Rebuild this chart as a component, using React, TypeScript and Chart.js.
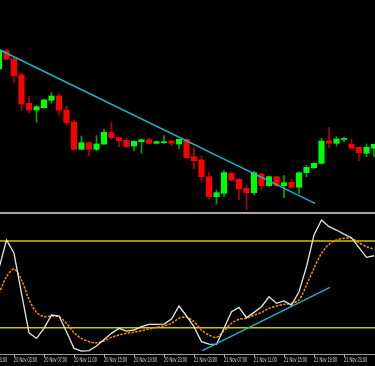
import React, { useEffect, useRef } from 'react';
import { Chart, registerables } from 'chart.js';

Chart.register(...registerables);

// ---- data (hourly bars, bar index 0 = 20 Nov 02:00) ----
const firstBar = -1;
const openP = [143, 161.3, 153, 137, 108.7, 102, 104.3, 111.7, 116, 102, 90, 62.7, 69.3, 62.7, 68, 79.3, 74.3, 71.7, 66, 70.3, 72.3, 68.7, 69.3, 71, 68, 72.7, 55.3, 52, 35.3, 15.3, 18.7, 38.7, 32.7, 23.7, 19.3, 38, 26.3, 35.3, 26.3, 29.7, 24.7, 39.3, 44.3, 48.7, 71, 68.7, 72.5, 67.7, 64.7, 58.7, 63.7];
const highP = [163, 163, 154, 139.3, 115.3, 106.5, 113, 119.3, 118.7, 106, 92, 76, 70, 76.3, 82.7, 90, 75, 74.3, 71.5, 72.7, 74, 71, 76.3, 71.5, 73, 73.5, 64.3, 56, 39.7, 22, 41.3, 40.3, 33.5, 27, 41, 38.5, 36, 36, 36.3, 32.7, 40, 47, 49.5, 73.7, 84.3, 75.3, 75, 73, 65, 68, 68];
const lowP = [142, 152, 129.3, 101.3, 99, 89.7, 103.5, 108.7, 97, 87, 62, 62, 56.3, 61.3, 67, 72.7, 65.3, 64.5, 61, 58.7, 68, 68, 68.7, 66.3, 63, 53.5, 43, 30.3, 13, 8, 15.3, 31, 12, 2.7, 17, 22, 25.5, 25.5, 14.3, 24, 18.7, 35.3, 43.5, 48, 64.3, 66, 70.3, 63, 51.3, 55.3, 55.3];
const closeP = [162, 153, 136.3, 108, 102, 105.3, 112, 116, 102, 89.3, 62.7, 69.3, 62.7, 68, 79.7, 74.3, 71.3, 65.3, 70.7, 72.3, 68.7, 70.3, 70.3, 68.7, 72.7, 54.3, 51.3, 35.3, 15.3, 19.3, 39.3, 32, 23, 19.3, 39.3, 26.3, 35.3, 26.3, 29.3, 24.7, 39.3, 44.7, 48.7, 71, 68.7, 73, 73, 63.7, 59.3, 64.7, 67.7];

const stochK = [61.1, 80.7, 71.5, 43.8, 16.5, 12.6, 19.6, 28.8, 28.1, 17.2, 5.7, 3.8, 4.1, 7.3, 11.9, 16.1, 19.6, 17.7, 18.4, 20.7, 22.3, 22.3, 22.5, 26, 35, 28.1, 20.7, 10.3, 8.7, 8.5, 19.6, 31.1, 34.1, 26.9, 30.6, 34.5, 41.4, 36.9, 38.5, 35.7, 44.9, 62.2, 84.2, 94.5, 89.9, 87.6, 84.8, 82.3, 75.4, 68.7, 69.8];
const stochD = [43.8, 55.3, 60.6, 53, 39.6, 30.6, 27.6, 28.1, 27.6, 23, 16.5, 12.6, 10.3, 9.6, 10.8, 13.3, 14.9, 16.1, 16.8, 17.9, 19.1, 20.3, 21.2, 23, 26.5, 27.4, 24.1, 18.4, 14.9, 13.3, 17.7, 23, 25.8, 26.5, 28.8, 30.6, 33.4, 35, 36.2, 36.9, 39.2, 49.5, 61.1, 71.5, 77.7, 80.7, 81.9, 81.9, 78.8, 76.1, 74.5];
const levels = [80, 20];

const priceTrend = [{ x: -0.867, y: 162 }, { x: 41.13, y: 8.7 }];
const stochTrend = [{ x: 26.11, y: 4.1 }, { x: 43.13, y: 47.9 }];

const tickBars = [-3, 1, 5, 9, 13, 17, 21, 25, 29, 33, 37, 41, 45];
const tickLabels = ['19 Nov 23:00', '20 Nov 03:00', '20 Nov 07:00', '20 Nov 11:00', '20 Nov 15:00', '20 Nov 19:00', '20 Nov 23:00', '21 Nov 03:00', '21 Nov 07:00', '21 Nov 11:00', '21 Nov 15:00', '21 Nov 19:00', '21 Nov 23:00'];

// ---- view config ----
const X_MIN = -4.0667;
const X_MAX = 49.1333;
const W = 399;

export default function App() {
  const topRef = useRef<HTMLCanvasElement | null>(null);
  const botRef = useRef<HTMLCanvasElement | null>(null);

  useEffect(() => {
    document.body.style.margin = '0';
    document.body.style.background = '#000';
    const bars = openP.map((_, i) => firstBar + i);
    const up = bars.map((_, i) => closeP[i] >= openP[i]);

    const top = new Chart(topRef.current as HTMLCanvasElement, {
      type: 'bar',
      data: {
        datasets: [
          {
            type: 'bar',
            data: bars.map((k, i) => ({ x: k, y: [lowP[i], highP[i]] })) as any,
            backgroundColor: up.map((u) => (u ? '#00a800' : '#b40000')),
            barThickness: 1,
            grouped: false,
            order: 2,
          } as any,
          {
            type: 'bar',
            data: bars.map((k, i) => ({ x: k, y: [Math.min(openP[i], closeP[i]), Math.max(openP[i], closeP[i])] })) as any,
            backgroundColor: up.map((u) => (u ? '#00ff00' : '#ff0000')),
            barThickness: 5.5,
            minBarLength: 1,
            grouped: false,
            order: 1,
          } as any,
          {
            type: 'line',
            data: priceTrend as any,
            borderColor: '#1cb6c8',
            borderWidth: 1.4,
            pointRadius: 0,
            order: 0,
          } as any,
        ],
      },
      options: {
        responsive: false,
        animation: false,
        devicePixelRatio: 1,
        layout: { padding: 0 },
        plugins: { legend: { display: false }, tooltip: { enabled: false } },
        scales: {
          x: { type: 'linear', min: X_MIN, max: X_MAX, display: false, offset: false },
          y: { type: 'linear', min: 0, max: 212, display: false },
        },
      } as any,
    });

    const labelPlugin = {
      id: 'timeLabels',
      afterDraw(chart: any) {
        const xs = chart.scales.x;
        const ctx = chart.ctx;
        ctx.save();
        ctx.fillStyle = '#d8d8d8';
        ctx.font = '6.5px "Liberation Sans", Arial, sans-serif';
        ctx.textAlign = 'left';
        ctx.textBaseline = 'alphabetic';
        tickBars.forEach((k, i) => {
          const px = xs.getPixelForValue(k);
          ctx.save();
          ctx.translate(px, chart.chartArea.bottom + 7.8);
          ctx.scale(0.6, 1);
          ctx.fillText(tickLabels[i], 0, 0);
          ctx.restore();
        });
        ctx.restore();
      },
    };

    const bot = new Chart(botRef.current as HTMLCanvasElement, {
      type: 'line',
      data: {
        datasets: [
          ...levels.map((lv) => ({
            data: [{ x: X_MIN, y: lv }, { x: X_MAX, y: lv }],
            borderColor: '#c8c800',
            borderWidth: 1.6,
            pointRadius: 0,
            order: 5,
          })),
          {
            data: bars.map((k, i) => ({ x: k, y: stochD[i] })),
            borderColor: '#ff8c00',
            borderWidth: 1.5,
            borderDash: [2.5, 1.3],
            tension: 0.3,
            pointRadius: 0,
            order: 3,
          },
          {
            data: bars.map((k, i) => ({ x: k, y: stochK[i] })),
            borderColor: '#e6e6e6',
            borderWidth: 1.3,
            tension: 0,
            pointRadius: 0,
            order: 2,
          },
          {
            data: stochTrend,
            borderColor: '#1cb6c8',
            borderWidth: 1.4,
            pointRadius: 0,
            order: 1,
          },
        ] as any,
      },
      options: {
        responsive: false,
        animation: false,
        devicePixelRatio: 1,
        layout: { padding: 0 },
        plugins: { legend: { display: false }, tooltip: { enabled: false } },
        scales: {
          x: {
            type: 'linear',
            min: X_MIN,
            max: X_MAX,
            offset: false,
            afterBuildTicks: (s: any) => {
              s.ticks = tickBars.map((v) => ({ value: v }));
            },
            afterFit: (s: any) => {
              s.height = 12;
              s.paddingLeft = 0;
              s.paddingRight = 0;
            },
            ticks: { display: false, autoSkip: false },
            grid: { drawOnChartArea: false, drawTicks: true, tickLength: 3, color: '#b8b8b8', lineWidth: 1 },
            border: { display: true, color: '#9a9a9a', width: 1 },
          },
          y: { type: 'linear', min: 1.8, max: 98.7, display: false },
        },
      } as any,
      plugins: [labelPlugin],
    });

    return () => {
      top.destroy();
      bot.destroy();
    };
  }, []);

  return (
    <div style={{ position: 'absolute', left: -24, top: 0, width: W, height: 366, background: '#000', overflow: 'hidden' }}>
      <canvas ref={topRef} width={W} height={212} style={{ position: 'absolute', left: 0, top: 0, display: 'block' }} />
      <div style={{ position: 'absolute', left: 0, top: 212, width: W, height: 2, background: '#a8a8a8' }} />
      <canvas ref={botRef} width={W} height={152} style={{ position: 'absolute', left: 0, top: 214, display: 'block' }} />
    </div>
  );
}
